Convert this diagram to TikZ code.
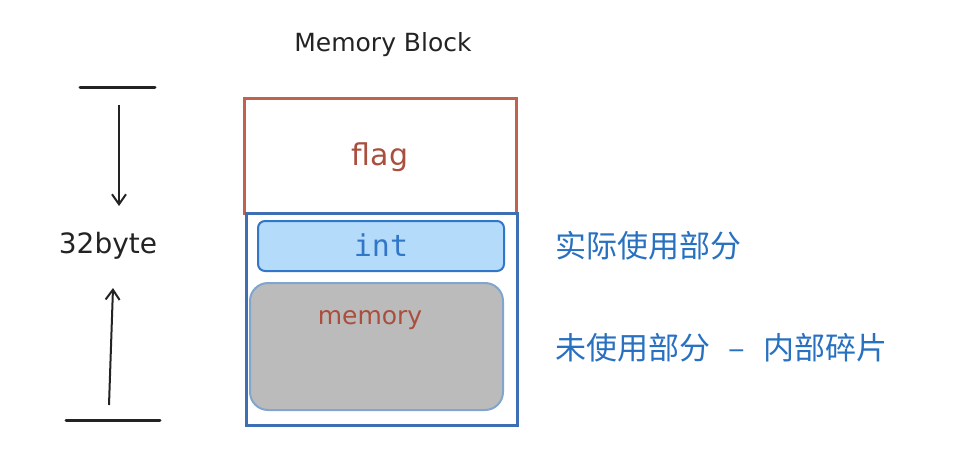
\documentclass[tikz,border=0pt]{standalone}
\usepackage{fontspec}
\setmainfont{DejaVu Sans}
\newfontfamily\cjk{Noto Sans CJK SC}
\newfontfamily\monofnt{DejaVu Sans Mono}
\usetikzlibrary{arrows.meta}
\definecolor{redline}{RGB}{192,98,78}
\definecolor{redtext}{RGB}{170,78,62}
\definecolor{blueline}{RGB}{62,110,180}
\definecolor{bluetext}{RGB}{40,112,192}
\definecolor{intfill}{RGB}{180,219,250}
\definecolor{intline}{RGB}{50,118,200}
\definecolor{memfill}{RGB}{187,187,187}
\definecolor{memline}{RGB}{130,165,205}
\definecolor{ink}{RGB}{35,35,35}
\tikzset{
  hand/.style={text=ink},
  cjklabel/.style={font=\cjk\fontsize{31}{33}\selectfont, text=bluetext, anchor=west},
  dimarrow/.style={draw=ink, line width=2pt, -{Straight Barb[length=10pt,width=14pt]}},
  bar/.style={draw=ink, line width=3pt, line cap=round},
}
\begin{document}
\begin{tikzpicture}[x=1pt,y=-1pt]
\useasboundingbox (0,0) rectangle (965,468);
% title
\node[hand, font=\fontsize{25}{27}\selectfont] (title) at (383,45) {Memory Block};
% red flag block
\node[draw=redline, line width=3pt, minimum width=272pt, minimum height=114pt, inner sep=0pt] (flagbox) at (380,156) {};
\node[font=\fontsize{30}{32}\selectfont, text=redtext] (flag) at (380,157) {flag};
% blue lower block
\node[draw=blueline, line width=3pt, minimum width=271pt, minimum height=212pt, inner sep=0pt] (blockbox) at (381.5,319) {};
% int
\node[draw=intline, fill=intfill, line width=2pt, rounded corners=7pt, minimum width=246pt, minimum height=50pt, inner sep=0pt] (intbox) at (381,246) {};
\node[font=\monofnt\fontsize{30}{32}\selectfont, text=intline] (int) at (381,245) {int};
% memory
\node[draw=memline, fill=memfill, line width=2pt, rounded corners=18pt, minimum width=253pt, minimum height=127pt, inner sep=0pt] (membox) at (376.5,346.5) {};
\node[font=\fontsize{25}{27}\selectfont, text=redtext] (mem) at (370,320) {memory};
% dimension
\coordinate (tl) at (80,88);
\coordinate (tr) at (155,88);
\coordinate (bl) at (66,420);
\coordinate (br) at (160,420);
\draw[bar] (tl) -- (tr);
\draw[bar] (bl) -- (br);
\node[hand, font=\fontsize{28}{30}\selectfont] (size) at (108,246) {32byte};
\coordinate (ds) at (119,105);
\coordinate (us) at (109,405);
\draw[dimarrow] (ds) -- (119,206);
\draw[dimarrow] (us) -- (113,288);
% labels
\node[cjklabel] (used) at (552,246) {实际使用部分};
\node[cjklabel] (unused) at (552,348) {未使用部分\hspace{18pt}–\hspace{18pt}内部碎片};
\end{tikzpicture}
\end{document}
